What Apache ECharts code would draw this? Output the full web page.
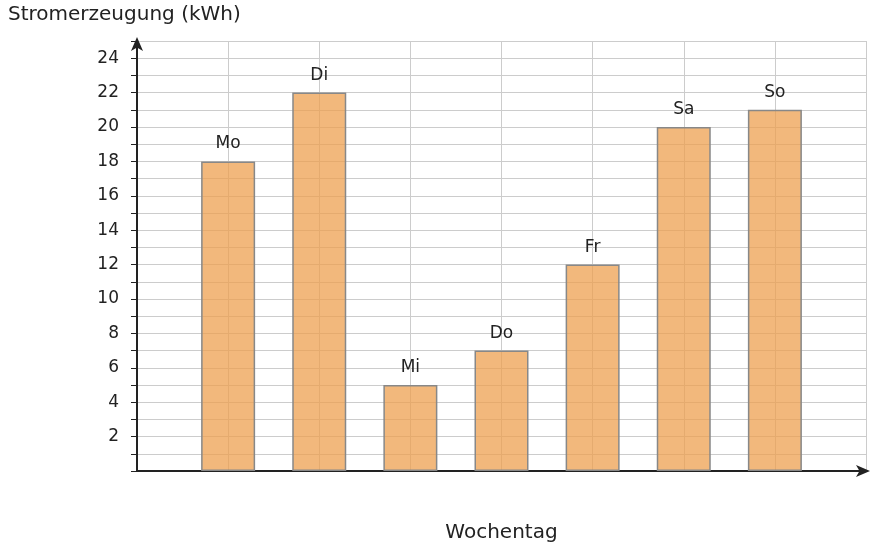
<!DOCTYPE html>
<html><head><meta charset="utf-8">
<script src="https://cdn.jsdelivr.net/npm/echarts@6/dist/echarts.min.js"></script>
<style>html,body{margin:0;padding:0;background:#fff}</style>
</head><body>
<div id="chart" style="width:870px;height:548px"></div>
<script>
const days = ['Mo', 'Di', 'Mi', 'Do', 'Fr', 'Sa', 'So'];
const energy = [18, 22, 5, 7, 12, 20, 21];
const yLabels = [2, 4, 6, 8, 10, 12, 14, 16, 18, 20, 22, 24];

const chart = echarts.init(document.getElementById('chart'));
const font = 'DejaVu Sans';
chart.setOption({
    animation: false,
    textStyle: { fontFamily: font },
    title: {
        text: 'Stromerzeugung (kWh)', left: 3, top: 0,
        textStyle: { fontFamily: font, fontSize: 20, fontWeight: 'normal', color: '#222' }
    },
    grid: { left: 137, right: 4, top: 41, bottom: 77 },
    xAxis: {
        type: 'value', min: 0, max: 8, interval: 1,
        name: 'Wochentag', nameLocation: 'middle', nameGap: 52,
        nameTextStyle: { fontFamily: font, fontSize: 20, color: '#222' },
        axisLabel: { show: false },
        axisTick: { show: false },
        axisLine: { lineStyle: { color: '#222', width: 2 }, symbol: ['none', 'arrow'], symbolSize: [9, 14], symbolOffset: [0, 4] },
        splitLine: { lineStyle: { color: '#ccc' } }
    },
    yAxis: {
        type: 'value', min: 0, max: 25, interval: 1,
        axisLabel: {
            fontFamily: font, fontSize: 17, color: '#222', margin: 18,
            formatter: v => yLabels.includes(v) ? String(v) : ''
        },
        axisTick: { show: true, length: 6, inside: false, lineStyle: { color: '#222' } },
        axisLine: { show: true, lineStyle: { color: '#222', width: 2 }, symbol: ['none', 'arrow'], symbolSize: [9, 14], symbolOffset: [0, 4] },
        splitLine: { lineStyle: { color: '#ccc' } }
    },
    series: [{
        type: 'bar',
        barWidth: 54,
        data: energy.map((v, i) => [i + 1, v]),
        itemStyle: { color: 'rgba(238,160,80,0.75)', borderColor: '#888', borderWidth: 1.5 },
        label: {
            show: true, position: 'top', distance: 9,
            fontFamily: font, fontSize: 17, color: '#222',
            formatter: p => days[p.dataIndex]
        }
    }]
});
</script>
</body></html>
